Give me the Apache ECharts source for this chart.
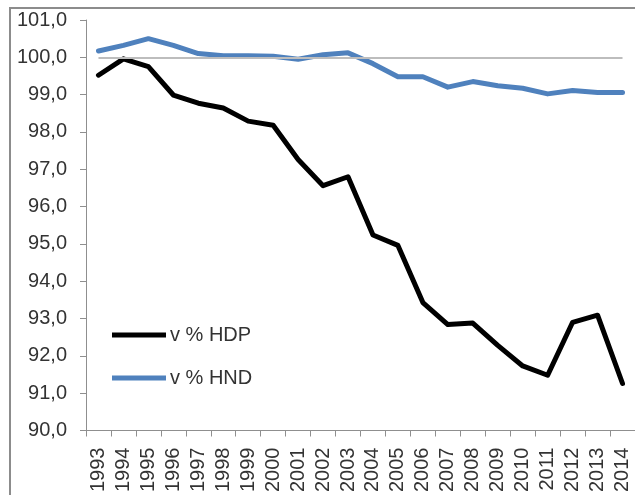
<!DOCTYPE html>
<html>
<head>
<meta charset="utf-8">
<script src="https://cdn.jsdelivr.net/npm/echarts@6/dist/echarts.min.js"></script>
<style>
html,body{margin:0;padding:0;background:#fff;}
#chart{width:635px;height:495px;}
</style>
</head>
<body>
<div id="chart"></div>
<script>
const years = ['1993','1994','1995','1996','1997','1998','1999','2000','2001','2002','2003','2004','2005','2006','2007','2008','2009','2010','2011','2012','2013','2014'];
const hdp = [99.52,99.96,99.75,98.99,98.77,98.64,98.29,98.18,97.26,96.56,96.80,95.24,94.96,93.43,92.84,92.88,92.28,91.73,91.48,92.90,93.09,91.26];
const hnd = [100.17,100.32,100.50,100.32,100.10,100.04,100.04,100.03,99.95,100.07,100.12,99.83,99.48,99.48,99.20,99.35,99.24,99.17,99.02,99.11,99.06,99.06];
const seriesNames = ['v % HDP','v % HND'];
const refValue = 100;

const chart = echarts.init(document.getElementById('chart'), null, {renderer:'canvas'});
const font = 'Liberation Sans, Arial, sans-serif';
const axisCol = '#8f8f8f';
chart.setOption({
  animation:false,
  backgroundColor:'#ffffff',
  graphic:[{
    type:'rect', shape:{x:10,y:8,width:700,height:600},
    style:{fill:'none',stroke:'#8c8c8c',lineWidth:2}, silent:true, z:-1
  }],
  grid:{left:86,right:-2,top:20,bottom:59,containLabel:false},
  legend:{
    orient:'vertical', left:112, top:325, padding:0, icon:'rect',
    itemWidth:54, itemHeight:5, itemGap:23,
    textStyle:{fontFamily:font,fontSize:20,color:'#333',padding:[0,0,0,-1]},
    data:seriesNames
  },
  xAxis:{
    type:'category', data:years, boundaryGap:true,
    axisLine:{lineStyle:{color:axisCol,width:1}},
    axisTick:{show:true,inside:false,length:6,alignWithLabel:false,lineStyle:{color:axisCol}},
    axisLabel:{rotate:90,interval:0,margin:17,fontFamily:font,fontSize:20,color:'#333'},
    splitLine:{show:false}
  },
  yAxis:{
    type:'value', min:90, max:101, interval:1,
    axisLine:{show:true,lineStyle:{color:axisCol,width:1}},
    axisTick:{show:true,inside:false,length:6,lineStyle:{color:axisCol}},
    axisLabel:{margin:19,fontFamily:font,fontSize:20,color:'#333',
      formatter:v=>v.toFixed(1).replace('.',',')},
    splitLine:{show:false}
  },
  series:[
    {name:seriesNames[0],type:'line',data:hdp,symbol:'none',
     lineStyle:{color:'#000000',width:5,join:'round',cap:'round'},itemStyle:{color:'#000000'},
     markLine:{silent:true,symbol:'none',label:{show:false},
       lineStyle:{color:'#bdbdbd',width:2,type:'solid'},
       data:[[{coord:[years[0],refValue]},{coord:[years[years.length-1],refValue]}]]},
     z:2},
    {name:seriesNames[1],type:'line',data:hnd,symbol:'none',
     lineStyle:{color:'#4f81bd',width:5,join:'round',cap:'round'},itemStyle:{color:'#4f81bd'},z:3}
  ]
});
</script>
</body>
</html>
